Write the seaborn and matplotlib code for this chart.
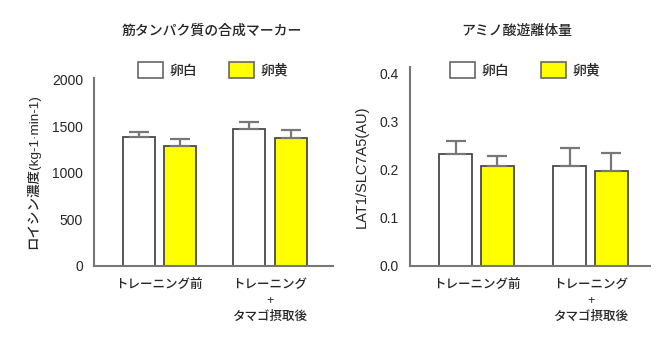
import matplotlib
matplotlib.use("Agg")
import matplotlib.pyplot as plt
import seaborn as sns
import pandas as pd
from matplotlib.patches import Patch

sns.set_style("white")
plt.rcParams['font.family'] = ['Liberation Sans', 'Noto Sans CJK JP', 'DejaVu Sans']

# ---- data ----
categories = ["トレーニング前", "トレーニング\n+\nタマゴ摂取後"]
groups = ["卵白", "卵黄"]
leucine_mean = {"卵白": [1380, 1470], "卵黄": [1290, 1375]}
leucine_err = {"卵白": [56, 76], "卵黄": [72, 86]}
lat1_mean = {"卵白": [0.232, 0.207], "卵黄": [0.207, 0.196]}
lat1_err = {"卵白": [0.028, 0.038], "卵黄": [0.022, 0.039]}
left_title = "筋タンパク質の合成マーカー"
right_title = "アミノ酸遊離体量"
left_ylabel = "ロイシン濃度(kg-1·min-1)"
right_ylabel = "LAT1/SLC7A5(AU)"
left_yticks = [0, 500, 1000, 1500, 2000]
right_yticks = [0.0, 0.1, 0.2, 0.3, 0.4]

colors = {"卵白": "#ffffff", "卵黄": "#ffff00"}
spine_c = "#777777"
W, H = 672, 347
JW = "medium"

fig = plt.figure(figsize=(W / 100, H / 100), dpi=100)


def make_df(means):
    rows = []
    for g in groups:
        for c, v in zip(categories, means[g]):
            rows.append({"cat": c, "grp": g, "val": v})
    return pd.DataFrame(rows)


def draw(ax, means, errs, ylim, yticks, fmt, ylabel, ylsize, xlim, width, gap):
    df = make_df(means)
    sns.barplot(data=df, x="cat", y="val", hue="grp", order=categories,
                hue_order=groups, palette=colors, saturation=1,
                edgecolor="#4a4a4a", linewidth=1.3, width=width, gap=gap,
                errorbar=None, legend=False, ax=ax)
    for cont, g in zip(ax.containers, groups):
        xs = [b.get_x() + b.get_width() / 2 for b in cont]
        hs = [b.get_height() for b in cont]
        ax.errorbar(xs, hs, yerr=[[0] * len(xs), errs[g]], fmt="none",
                    ecolor="#777777", elinewidth=1.6, capsize=7.2,
                    capthick=1.6, zorder=1)
    ax.set_ylim(*ylim)
    ax.set_xlim(*xlim)
    ax.set_yticks(yticks)
    ax.set_yticklabels([fmt(v) for v in yticks], fontsize=10)
    ax.set_xlabel("")
    ax.set_ylabel(ylabel, fontsize=ylsize, labelpad=8, fontweight=JW)
    ax.tick_params(axis="y", length=0, pad=8)
    ax.tick_params(axis="x", length=0, pad=10)
    for lbl in ax.get_xticklabels():
        lbl.set_fontsize(9)
        lbl.set_fontweight(JW)
        lbl.set_linespacing(1.4)
        lbl.set_verticalalignment("top")
    for s in ["top", "right"]:
        ax.spines[s].set_visible(False)
    for s in ["left", "bottom"]:
        ax.spines[s].set_color(spine_c)
        ax.spines[s].set_linewidth(1.5)


def axrect(x0, x1, y0, y1):
    return [x0 / W, 1 - y1 / H, (x1 - x0) / W, (y1 - y0) / H]


ax1 = fig.add_axes(axrect(94, 333, 78, 265.5))
draw(ax1, leucine_mean, leucine_err, (0, 2020), left_yticks,
     lambda v: f"{v:d}", left_ylabel, 9.7, (-0.59, 1.57), 0.75, 0.23)

ax2 = fig.add_axes(axrect(410, 650, 67, 265.5))
draw(ax2, lat1_mean, lat1_err, (0, 0.4135), right_yticks,
     lambda v: f"{v:.1f}", right_ylabel, 10.5, (-0.583, 1.52), 0.73, 0.21)

fig.text(212 / W, 1 - 31 / H, left_title, ha="center", va="center",
         fontsize=10, fontweight=JW)
fig.text(517 / W, 1 - 31 / H, right_title, ha="center", va="center",
         fontsize=10, fontweight=JW)

handles = [Patch(facecolor=colors[g], edgecolor="#666666", linewidth=1.2) for g in groups]
for ax, cx in [(ax1, 213), (ax2, 525)]:
    leg = ax.legend(handles, groups, loc="center", bbox_to_anchor=(cx / W, 1 - 70 / H),
                    bbox_transform=fig.transFigure, ncol=2, frameon=False,
                    fontsize=10, handlelength=1.8, handleheight=1.45,
                    handletextpad=0.45, columnspacing=2.3,
                    prop={"size": 10, "weight": JW})

fig.savefig("out.png", dpi=100)
